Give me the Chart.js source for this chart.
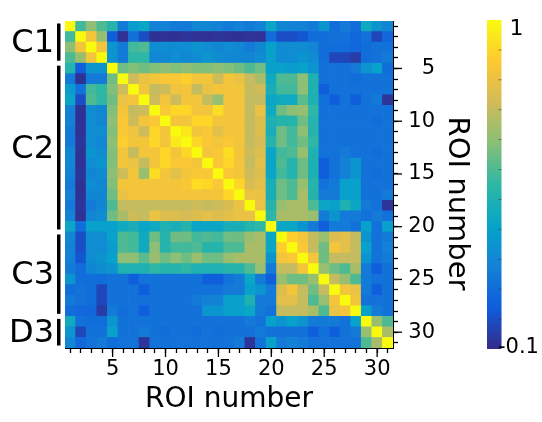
<!DOCTYPE html>
<html><head><meta charset="utf-8">
<script src="https://cdn.jsdelivr.net/npm/chart.js@4.4.1/dist/chart.umd.min.js"></script>
<style>
html,body{margin:0;padding:0;background:#fff;}
#wrap{position:relative;width:542px;height:422px;}
canvas{position:absolute;left:0;top:0;}
</style></head><body>
<div id="wrap"><canvas id="c" width="542" height="422"></canvas></div>
<script>
// ---- data ----
const roiNumbers = [1,2,3,4,5,6,7,8,9,10,11,12,13,14,15,16,17,18,19,20,21,22,23,24,25,26,27,28,29,30,31];
const tickLabels = [5,10,15,20,25,30];
const groupLabels = ['C1','C2','C3','D3'];
const groupFirst = [1,5,21,29];
const groupLast = [4,20,28,31];
const colorbarMin = -0.1;
const colorbarMax = 1;
const colorbarLabels = ['1','-0.1'];
const parulaStops = ['#352a87','#0f5cdd','#1481d6','#06a4ca','#2eb7a4','#87bf77','#d1bb59','#fec832','#f9fb0e'];

const row01 = [1,.48,.6,.5,.42,.15,.28,.33,.18,.18,.15,.15,.2,.2,.18,.15,.18,.15,.18,.33,.2,.18,.18,.15,.25,.1,.15,.1,.35,.25,.2];
const row02 = [.48,1,.83,.62,.05,-.08,.12,0,-.08,-.08,-.08,-.07,-.08,-.08,-.07,-.08,-.08,-.07,-.08,.1,0,0,.02,.1,.1,.12,.12,.08,.12,-.02,.08];
const row03 = [.6,.83,1,.83,.25,.15,.48,.5,.22,.22,.22,.22,.25,.22,.2,.22,.2,.15,.2,.3,.22,.22,.22,.2,.1,.1,.1,.08,.1,.12,.12];
const row04 = [.5,.62,.83,1,.25,.15,.45,.45,.2,.2,.22,.2,.22,.25,.22,.2,.2,.2,.22,.3,.22,.22,.25,.22,.1,-.02,-.02,-.05,.1,.12,.15];
const row05 = [.42,.05,.25,.25,1,.55,.58,.55,.58,.6,.58,.6,.58,.58,.6,.58,.55,.5,.55,.3,.3,.28,.3,.25,.12,.12,.12,.15,.25,.3,.1];
const row06 = [.15,-.08,.15,.15,.55,1,.72,.8,.83,.85,.85,.88,.83,.83,.72,.83,.8,.7,.65,.35,.5,.5,.6,.4,.12,.12,.12,.1,.12,.12,.12];
const row07 = [.28,.12,.48,.45,.58,.72,1,.83,.7,.72,.82,.83,.7,.8,.83,.83,.83,.7,.72,.38,.48,.48,.6,.4,.05,.12,.12,.12,.12,.12,.12];
const row08 = [.33,0,.5,.45,.55,.8,.83,1,.72,.83,.72,.83,.83,.7,.62,.83,.83,.7,.7,.33,.35,.35,.52,.4,.12,.05,.12,.05,.12,.15,-.07];
const row09 = [.18,-.08,.22,.2,.58,.83,.7,.72,1,.85,.9,.9,.83,.83,.92,.83,.83,.7,.8,.35,.55,.6,.62,.45,.12,.12,.12,.12,.12,.12,.12];
const row10 = [.18,-.08,.22,.2,.6,.85,.72,.83,.85,1,.83,.83,.9,.9,.83,.83,.83,.7,.76,.4,.42,.42,.55,.42,.12,.12,.12,.12,.12,.1,.12];
const row11 = [.15,-.08,.22,.22,.58,.85,.82,.72,.9,.83,1,.95,.83,.85,.78,.83,.83,.7,.76,.38,.55,.48,.6,.42,.12,.12,.12,.12,.12,.12,.12];
const row12 = [.15,-.07,.22,.2,.6,.88,.83,.83,.9,.83,.95,1,.9,.85,.83,.85,.83,.7,.74,.42,.55,.48,.55,.45,.12,.12,.12,.12,.12,.12,.12];
const row13 = [.2,-.08,.25,.22,.58,.83,.7,.83,.83,.9,.83,.9,1,.83,.85,.92,.83,.72,.76,.33,.48,.5,.62,.4,.12,.12,.15,.12,.12,.1,.12];
const row14 = [.2,-.08,.22,.25,.58,.83,.8,.7,.83,.9,.85,.85,.83,1,.85,.9,.83,.7,.78,.33,.5,.42,.55,.4,.05,.12,.18,.25,.12,.12,.12];
const row15 = [.18,-.07,.2,.22,.6,.72,.83,.62,.92,.83,.78,.83,.85,.85,1,.85,.83,.72,.76,.33,.48,.42,.55,.4,.05,.12,.18,.25,.12,.1,.12];
const row16 = [.15,-.08,.22,.2,.58,.83,.83,.83,.83,.83,.83,.85,.92,.9,.85,1,.9,.75,.78,.38,.55,.5,.62,.42,.12,.15,.3,.3,.12,.12,.12];
const row17 = [.18,-.08,.2,.2,.55,.8,.83,.83,.83,.83,.83,.83,.83,.83,.83,.9,1,.8,.8,.38,.55,.5,.65,.42,.15,.15,.3,.3,.12,.12,.15];
const row18 = [.15,-.07,.15,.2,.5,.7,.7,.7,.7,.7,.7,.7,.72,.7,.72,.75,.8,1,.8,.42,.62,.65,.65,.5,.33,.3,.4,.33,.15,.12,-.07];
const row19 = [.18,-.08,.2,.22,.55,.65,.72,.7,.8,.76,.76,.74,.76,.78,.76,.78,.8,.8,1,.45,.65,.65,.65,.62,.15,.25,.15,.15,.12,.15,.12];
const row20 = [.33,.1,.3,.3,.3,.35,.38,.33,.35,.4,.38,.42,.33,.33,.33,.38,.38,.42,.45,1,.33,.33,.25,.15,.05,.15,.15,.12,.3,.12,.3];
const row21 = [.2,0,.22,.22,.3,.5,.48,.35,.55,.42,.55,.55,.48,.5,.48,.55,.55,.62,.65,.33,1,.88,.83,.7,.62,.76,.78,.7,.25,.12,.15];
const row22 = [.18,0,.22,.22,.28,.5,.48,.35,.6,.42,.48,.48,.5,.42,.42,.5,.5,.65,.65,.33,.88,1,.85,.7,.55,.83,.78,.7,.3,.12,.18];
const row23 = [.18,.02,.22,.25,.3,.6,.6,.52,.62,.55,.6,.55,.62,.55,.55,.62,.65,.65,.65,.25,.83,.85,1,.83,.55,.7,.7,.7,.25,.12,.15];
const row24 = [.15,.1,.2,.22,.25,.4,.4,.4,.45,.42,.42,.45,.4,.4,.4,.42,.42,.5,.62,.15,.7,.7,.83,1,.62,.55,.5,.65,.15,.05,.12];
const row25 = [.25,.1,.1,.1,.12,.12,.05,.12,.12,.12,.12,.12,.12,.05,.05,.12,.15,.33,.15,.05,.62,.55,.55,.62,1,.7,.62,.5,.15,.12,.12];
const row26 = [.1,.12,.1,-.02,.12,.12,.12,.05,.12,.12,.12,.12,.12,.12,.12,.15,.15,.3,.25,.15,.76,.83,.7,.55,.7,1,.83,.8,.15,.05,.12];
const row27 = [.15,.12,.1,-.02,.12,.12,.12,.12,.12,.12,.12,.12,.15,.18,.18,.3,.3,.4,.15,.15,.78,.78,.7,.5,.62,.83,1,.83,.12,.12,.12];
const row28 = [.1,.08,.08,-.05,.15,.1,.12,.05,.12,.12,.12,.12,.12,.25,.25,.3,.3,.33,.15,.12,.7,.7,.7,.65,.5,.8,.83,1,.3,.15,.12];
const row29 = [.35,.12,.1,.1,.25,.12,.12,.12,.12,.12,.12,.12,.12,.12,.12,.12,.12,.15,.12,.3,.25,.3,.25,.15,.15,.15,.12,.3,1,.62,.5];
const row30 = [.25,-.02,.12,.12,.3,.12,.12,.15,.12,.1,.12,.12,.1,.12,.1,.12,.12,.12,.15,.12,.12,.12,.12,.05,.12,.05,.12,.15,.62,1,.65];
const row31 = [.2,.08,.12,.15,.1,.12,.12,-.07,.12,.12,.12,.12,.12,.12,.12,.12,.15,-.07,.12,.3,.15,.18,.15,.12,.12,.12,.12,.12,.5,.65,1];

const matrix = [row01,row02,row03,row04,row05,row06,row07,row08,row09,row10,row11,row12,row13,row14,row15,row16,row17,row18,row19,row20,row21,row22,row23,row24,row25,row26,row27,row28,row29,row30,row31];

// ---- colour map ----
function hexToRgb(h){return [parseInt(h.slice(1,3),16),parseInt(h.slice(3,5),16),parseInt(h.slice(5,7),16)];}
const stopRgb = parulaStops.map(hexToRgb);
function parula(v){
  let t = (v - colorbarMin) / (colorbarMax - colorbarMin);
  t = Math.max(0, Math.min(1, t));
  const f = t * (stopRgb.length - 1);
  const i = Math.min(stopRgb.length - 2, Math.floor(f));
  const u = f - i;
  const a = stopRgb[i], b = stopRgb[i+1];
  return 'rgb(' + [0,1,2].map(k => Math.round(a[k] + (b[k]-a[k])*u)).join(',') + ')';
}

const points = [];
matrix.forEach((row, i) => row.forEach((v, j) => points.push({x: roiNumbers[j], y: roiNumbers[i], v: v})));

const FONT = "'DejaVu Sans', sans-serif";
Chart.defaults.font.family = FONT;
Chart.defaults.color = '#000';

function cellRadius(ctx){
  const c = ctx.chart;
  if (!c.scales || !c.scales.x) return 7.5;
  const w = Math.abs(c.scales.x.getPixelForValue(2) - c.scales.x.getPixelForValue(1));
  const h = Math.abs(c.scales.y.getPixelForValue(2) - c.scales.y.getPixelForValue(1));
  return (Math.max(w, h) / 2 + 0.35) * Math.SQRT2;
}

const decorations = {
  id: 'decorations',
  afterDraw(chart){
    const ctx = chart.ctx;
    const xs = chart.scales.x, ys = chart.scales.y;
    const area = chart.chartArea;
    ctx.save();
    // longer major ticks
    ctx.strokeStyle = '#000';
    ctx.lineWidth = 1.3;
    tickLabels.forEach(v => {
      const px = xs.getPixelForValue(v);
      ctx.beginPath(); ctx.moveTo(px, area.bottom); ctx.lineTo(px, area.bottom + 9); ctx.stroke();
      const py = ys.getPixelForValue(v);
      ctx.beginPath(); ctx.moveTo(area.right, py); ctx.lineTo(area.right + 9, py); ctx.stroke();
    });
    // group bars and labels
    ctx.fillStyle = '#000';
    ctx.font = '32px ' + FONT;
    ctx.textAlign = 'right';
    ctx.textBaseline = 'middle';
    groupLabels.forEach((lab, k) => {
      const y0 = ys.getPixelForValue(groupFirst[k] - 0.5) + 2.5;
      const y1 = ys.getPixelForValue(groupLast[k] + 0.5) - 2.5;
      ctx.fillRect(area.left - 8, y0, 3.5, y1 - y0);
      ctx.fillText(lab, area.left - 11, (y0 + y1) / 2 + 2);
    });
    // right axis title
    ctx.save();
    ctx.translate(area.right + 64, (area.top + area.bottom) / 2 + 19);
    ctx.rotate(Math.PI / 2);
    ctx.font = '29px ' + FONT;
    ctx.textAlign = 'center';
    ctx.textBaseline = 'middle';
    ctx.fillText('ROI number', 0, 0);
    ctx.restore();
    // colour bar
    const cbL = area.right + 94, cbW = 14.5, cbT = area.top - 1, cbB = area.bottom + 1;
    const g = ctx.createLinearGradient(0, cbB, 0, cbT);
    parulaStops.forEach((c, i) => g.addColorStop(i / (parulaStops.length - 1), c));
    ctx.fillStyle = g;
    ctx.fillRect(cbL, cbT, cbW, cbB - cbT);
    ctx.strokeStyle = 'rgba(60,60,60,0.6)';
    ctx.lineWidth = 1;
    for (let k = 1; k < 11; k++) {
      const v = colorbarMin + k * 0.1;
      const py = cbB - (v - colorbarMin) / (colorbarMax - colorbarMin) * (cbB - cbT);
      ctx.beginPath(); ctx.moveTo(cbL + cbW - 3, py); ctx.lineTo(cbL + cbW, py); ctx.stroke();
    }
    ctx.fillStyle = '#000';
    ctx.font = '22px ' + FONT;
    ctx.textAlign = 'left';
    ctx.textBaseline = 'middle';
    ctx.fillText(colorbarLabels[0], cbL + cbW + 8, cbT + 9);
    ctx.font = '21px ' + FONT;
    ctx.fillText(colorbarLabels[1], cbL + 11, cbB - 1);
    ctx.restore();
  }
};

new Chart(document.getElementById('c'), {
  type: 'scatter',
  data: {
    datasets: [{
      data: points,
      pointStyle: 'rect',
      pointRadius: cellRadius,
      pointHoverRadius: cellRadius,
      borderWidth: 0,
      pointBorderWidth: 0,
      backgroundColor: ctx => parula(ctx.raw ? ctx.raw.v : 0),
      pointBackgroundColor: ctx => parula(ctx.raw ? ctx.raw.v : 0)
    }]
  },
  options: {
    responsive: false,
    animation: false,
    events: [],
    layout: { padding: { left: 65, top: 21, right: 107, bottom: 5 } },
    plugins: { legend: { display: false }, tooltip: { enabled: false } },
    scales: {
      x: {
        type: 'linear', position: 'bottom', min: 0.5, max: 31.5, bounds: 'data',
        afterBuildTicks: s => { s.ticks = roiNumbers.map(v => ({ value: v })); },
        afterFit: s => { s.height = 69; },
        ticks: {
          autoSkip: false, maxRotation: 0, padding: 4, color: '#000',
          font: { family: FONT, size: 21 },
          callback: v => tickLabels.includes(v) ? String(v) : ''
        },
        grid: { drawOnChartArea: false, drawTicks: true, tickLength: 5, tickColor: '#000', tickWidth: 1.3 },
        border: { display: true, color: '#000', width: 1 },
        title: { display: true, text: 'ROI number', color: '#000', font: { family: FONT, size: 28 }, padding: { top: 0, bottom: 0 } }
      },
      y: {
        type: 'linear', position: 'right', reverse: true, min: 0.5, max: 31.5, bounds: 'data',
        afterBuildTicks: s => { s.ticks = roiNumbers.map(v => ({ value: v })); },
        afterFit: s => { s.width = 42; },
        ticks: {
          autoSkip: false, padding: 5, crossAlign: 'far', color: '#000',
          font: { family: FONT, size: 21 },
          callback: v => tickLabels.includes(v) ? String(v) : ''
        },
        grid: { drawOnChartArea: false, drawTicks: true, tickLength: 5, tickColor: '#000', tickWidth: 1.3 },
        border: { display: true, color: '#000', width: 1 }
      }
    }
  },
  plugins: [decorations]
});
</script>
</body></html>
